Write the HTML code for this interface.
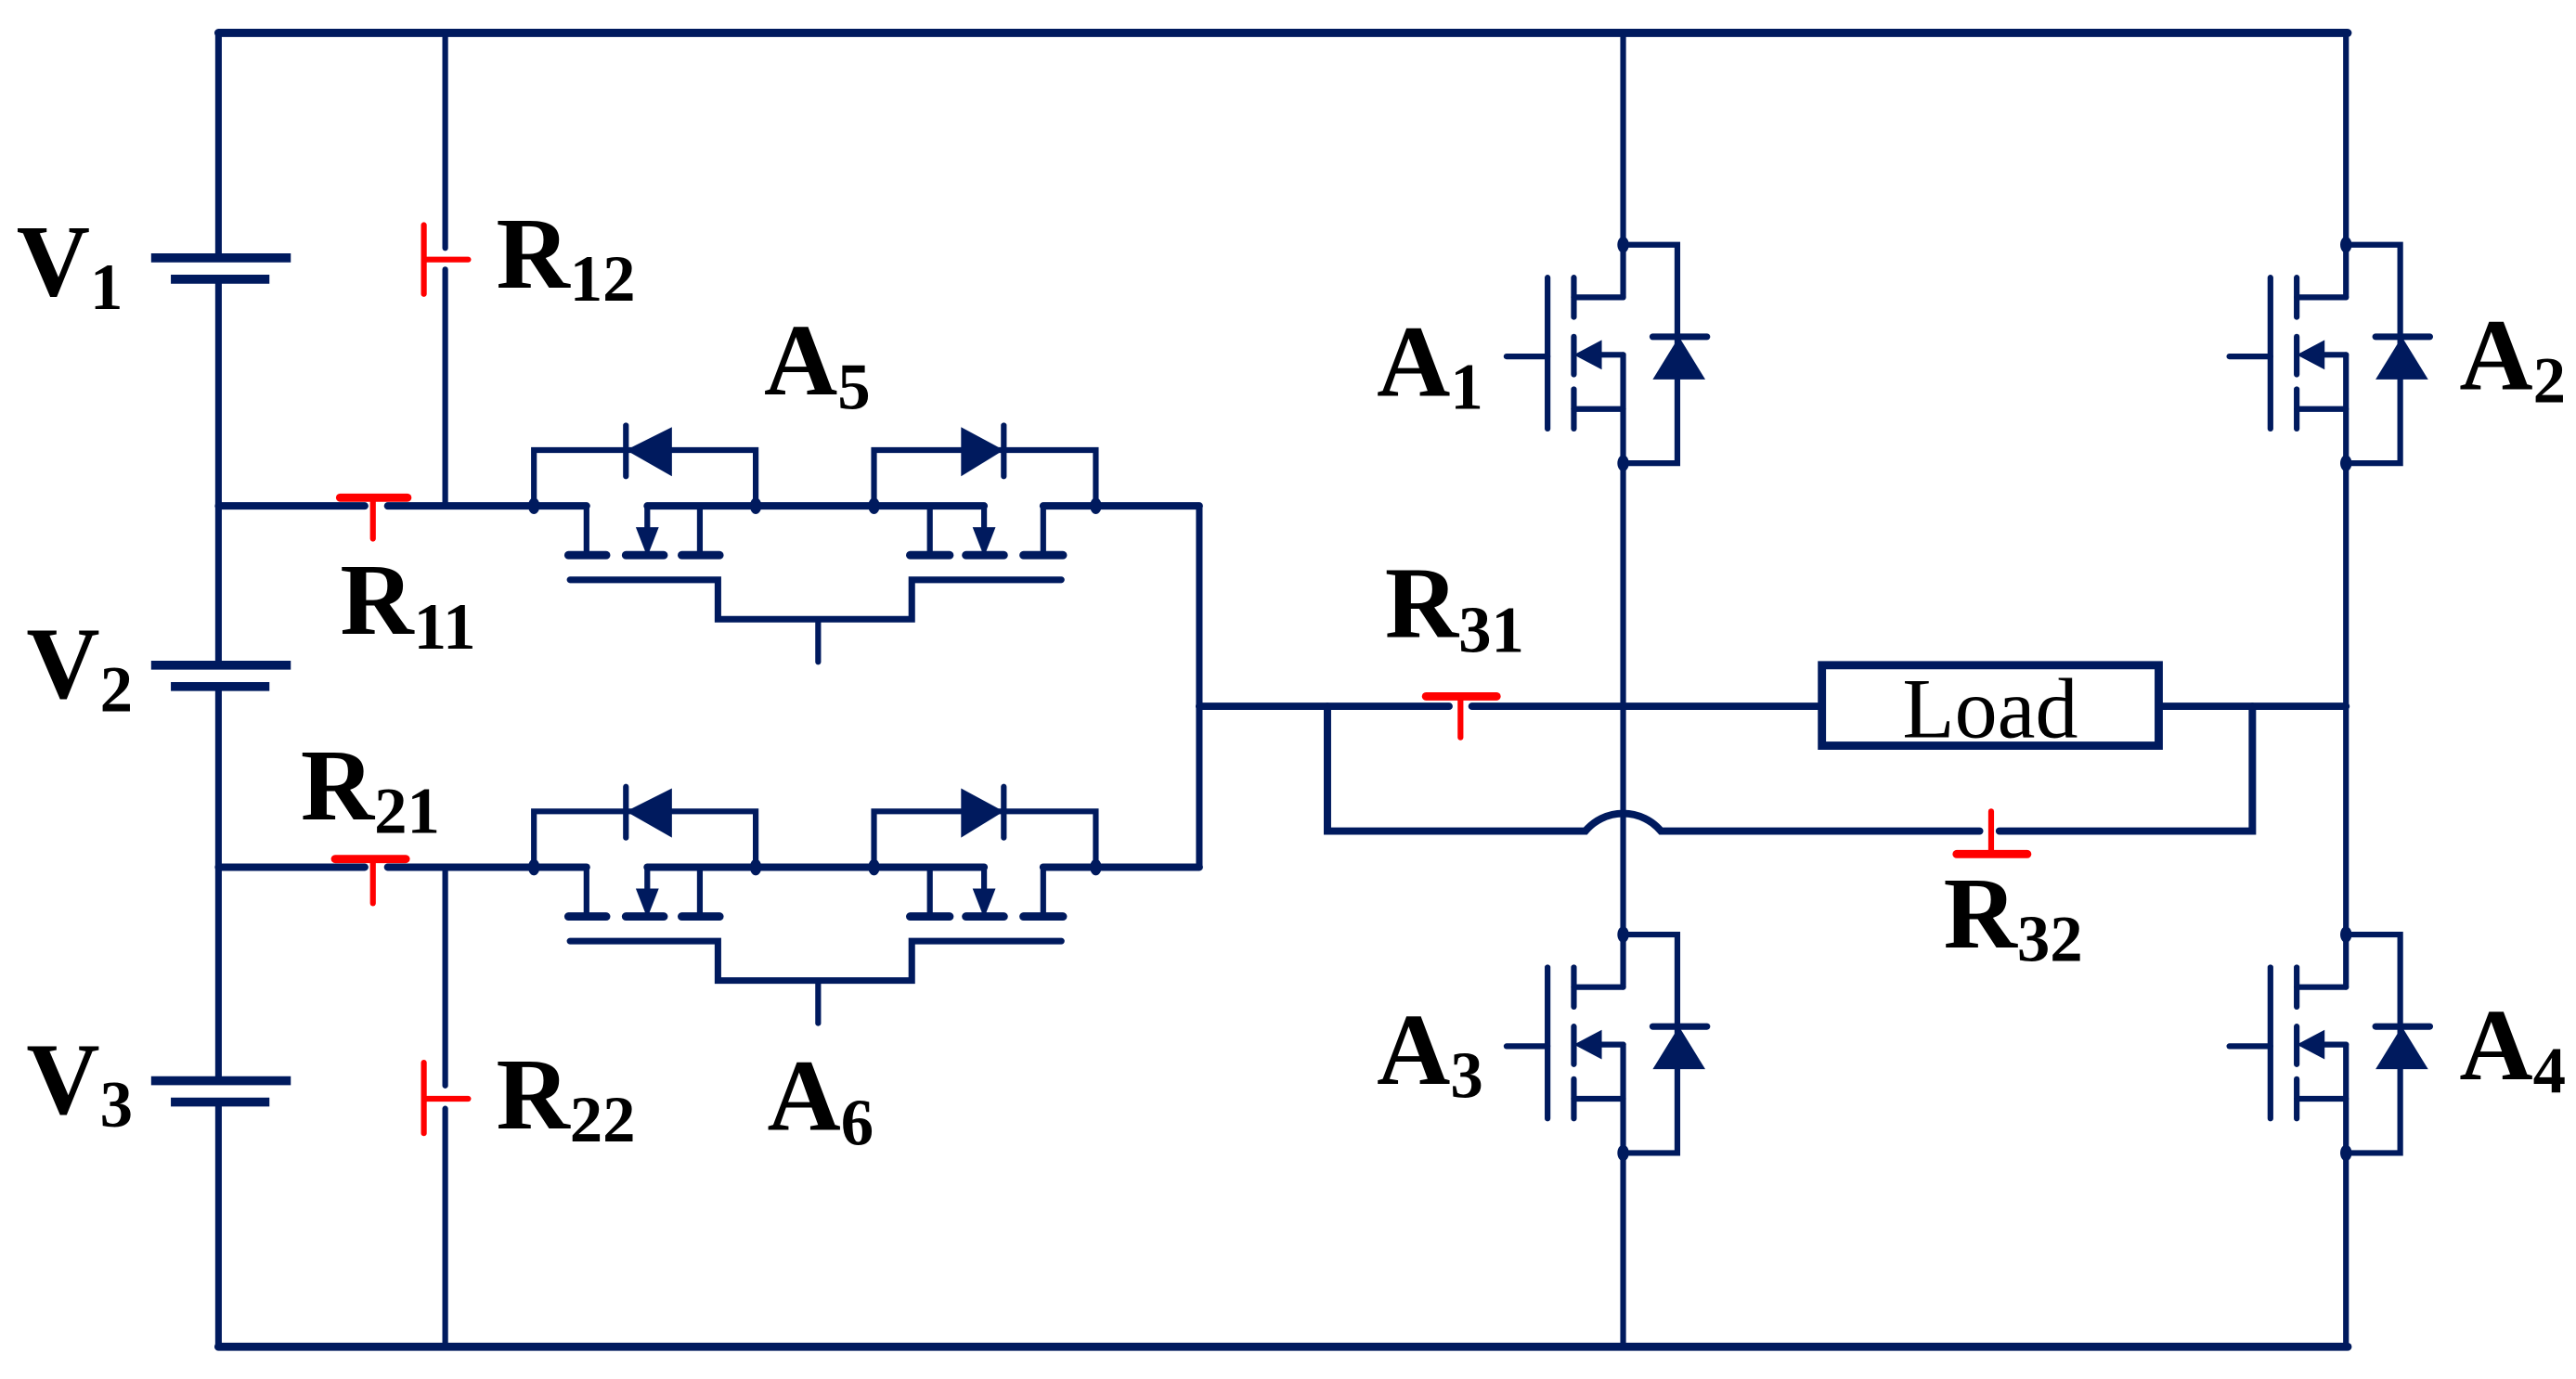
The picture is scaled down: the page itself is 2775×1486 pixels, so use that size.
<!DOCTYPE html>
<html><head><meta charset="utf-8"><style>
html,body{margin:0;padding:0;background:#fff;}
svg{display:block;}
text{font-family:"Liberation Serif",serif;fill:#000;}
</style></head><body>
<svg width="2775" height="1486" viewBox="0 0 1568 839.6" xmlns="http://www.w3.org/2000/svg">
<defs>
<g id="mos">
  <g stroke="#001a5e" stroke-width="3.5" fill="none" stroke-linecap="round">
    <polyline points="988,149 1021,149 1021,282 988,282"/>
    <line x1="958" y1="181" x2="988" y2="181"/>
    <line x1="958" y1="249" x2="988" y2="249"/>
    <line x1="970" y1="216" x2="988" y2="216"/>
    <line x1="958" y1="169" x2="958" y2="193"/>
    <line x1="958" y1="205" x2="958" y2="228"/>
    <line x1="958" y1="237" x2="958" y2="261"/>
    <line x1="942" y1="169" x2="942" y2="261"/>
    <line x1="917" y1="217" x2="942" y2="217"/>
    <line x1="1006" y1="205" x2="1039" y2="205" stroke-width="4"/>
  </g>
  <polygon points="958,216 975,207 975,225" fill="#001a5e"/>
  <polygon points="1006,231 1038,231 1022,205" fill="#001a5e"/>
  <ellipse cx="988" cy="149" rx="3.5" ry="5" fill="#001a5e"/>
  <ellipse cx="988" cy="282" rx="3.5" ry="5" fill="#001a5e"/>
</g>
<g id="bid">
  <g stroke="#001a5e" stroke-width="3.5" fill="none" stroke-linecap="round">
    <polyline points="325,308 325,274 460,274 460,308"/>
    <polyline points="532,308 532,274 667,274 667,308"/>
    <line x1="381" y1="259" x2="381" y2="290"/>
    <line x1="611" y1="259" x2="611" y2="290"/>
    <line x1="236" y1="308" x2="357" y2="308" stroke-width="4.5"/>
    <line x1="394" y1="308" x2="599" y2="308" stroke-width="4.5"/>
    <line x1="635" y1="308" x2="730" y2="308" stroke-width="4.5"/>
    <line x1="357" y1="308" x2="357" y2="338"/>
    <line x1="394" y1="308" x2="394" y2="324"/>
    <line x1="426" y1="308" x2="426" y2="338"/>
    <line x1="566" y1="308" x2="566" y2="338"/>
    <line x1="599" y1="308" x2="599" y2="324"/>
    <line x1="635" y1="308" x2="635" y2="338"/>
    <g stroke-width="5">
      <line x1="346" y1="338" x2="369" y2="338"/>
      <line x1="381" y1="338" x2="404" y2="338"/>
      <line x1="415" y1="338" x2="438" y2="338"/>
      <line x1="554" y1="338" x2="578" y2="338"/>
      <line x1="588" y1="338" x2="611" y2="338"/>
      <line x1="623" y1="338" x2="647" y2="338"/>
    </g>
    <polyline points="347,353 437,353 437,377 555,377 555,353 646,353" stroke-width="4"/>
    <line x1="498" y1="377" x2="498" y2="403"/>
  </g>
  <polygon points="381,274 409,260 409,290" fill="#001a5e"/>
  <polygon points="585,260 585,290 611,274" fill="#001a5e"/>
  <polygon points="387,321 401,321 394,339" fill="#001a5e"/>
  <polygon points="592,321 606,321 599,339" fill="#001a5e"/>
  <ellipse cx="325" cy="308" rx="3.5" ry="5" fill="#001a5e"/>
  <ellipse cx="460" cy="308" rx="3.5" ry="5" fill="#001a5e"/>
  <ellipse cx="532" cy="308" rx="3.5" ry="5" fill="#001a5e"/>
  <ellipse cx="667" cy="308" rx="3.5" ry="5" fill="#001a5e"/>
</g>
</defs>

<g stroke="#001a5e" stroke-width="4" fill="none" stroke-linecap="round">
  <line x1="133" y1="20" x2="1429" y2="20" stroke-width="5"/>
  <line x1="133" y1="820" x2="1429" y2="820" stroke-width="5"/>
  <line x1="133" y1="20" x2="133" y2="157"/>
  <line x1="133" y1="170" x2="133" y2="405"/>
  <line x1="133" y1="418" x2="133" y2="658"/>
  <line x1="133" y1="671" x2="133" y2="820"/>
  <line x1="92" y1="157" x2="177" y2="157" stroke-width="5.5" stroke-linecap="butt"/>
  <line x1="104" y1="170" x2="164" y2="170" stroke-width="5.5" stroke-linecap="butt"/>
  <line x1="92" y1="405" x2="177" y2="405" stroke-width="5.5" stroke-linecap="butt"/>
  <line x1="104" y1="418" x2="164" y2="418" stroke-width="5.5" stroke-linecap="butt"/>
  <line x1="92" y1="658" x2="177" y2="658" stroke-width="5.5" stroke-linecap="butt"/>
  <line x1="104" y1="671" x2="164" y2="671" stroke-width="5.5" stroke-linecap="butt"/>
  <line x1="271" y1="20" x2="271" y2="151" stroke-width="3.5"/>
  <line x1="271" y1="164" x2="271" y2="308" stroke-width="3.5"/>
  <line x1="271" y1="528" x2="271" y2="661" stroke-width="3.5"/>
  <line x1="271" y1="675" x2="271" y2="820" stroke-width="3.5"/>
  <line x1="133" y1="308" x2="222" y2="308" stroke-width="4.5"/>
  <line x1="133" y1="528" x2="222" y2="528" stroke-width="4.5"/>
  <line x1="730" y1="308" x2="730" y2="528"/>
  <line x1="988" y1="20" x2="988" y2="181" stroke-width="3.5"/>
  <line x1="988" y1="216" x2="988" y2="601" stroke-width="3.5"/>
  <line x1="988" y1="636" x2="988" y2="820" stroke-width="3.5"/>
  <line x1="1428" y1="20" x2="1428" y2="181" stroke-width="3.5"/>
  <line x1="1428" y1="216" x2="1428" y2="601" stroke-width="3.5"/>
  <line x1="1428" y1="636" x2="1428" y2="820" stroke-width="3.5"/>
  <line x1="730" y1="430" x2="882" y2="430" stroke-width="4.5"/>
  <line x1="896" y1="430" x2="1109" y2="430" stroke-width="4.5"/>
  <line x1="1314" y1="430" x2="1428" y2="430" stroke-width="4.5"/>
  <rect x="1109" y="405" width="205" height="49" stroke-width="5"/>
  <path d="M808,430 V506 H965 A30,30 0 0 1 1011,506 H1205 M1217,506 H1371 V430" stroke-width="4.5"/>
</g>

<use href="#mos"/>
<use href="#mos" transform="translate(440,0)"/>
<use href="#mos" transform="translate(0,420)"/>
<use href="#mos" transform="translate(440,420)"/>
<use href="#bid"/>
<use href="#bid" transform="translate(0,220)"/>

<g stroke="#ff0000" stroke-width="3.5" fill="none" stroke-linecap="round">
  <line x1="258" y1="137" x2="258" y2="179"/>
  <line x1="258" y1="158" x2="285" y2="158"/>
  <line x1="258" y1="647" x2="258" y2="690"/>
  <line x1="258" y1="669" x2="285" y2="669"/>
  <line x1="207" y1="303" x2="248" y2="303" stroke-width="5"/>
  <line x1="227" y1="303" x2="227" y2="328"/>
  <line x1="204" y1="523" x2="247" y2="523" stroke-width="5"/>
  <line x1="227" y1="523" x2="227" y2="550"/>
  <line x1="868" y1="424" x2="911" y2="424" stroke-width="5"/>
  <line x1="889" y1="424" x2="889" y2="449"/>
  <line x1="1212" y1="494" x2="1212" y2="520"/>
  <line x1="1191" y1="520" x2="1234" y2="520" stroke-width="5"/>
</g>

<g font-weight="bold" font-size="62">
  <text x="10" y="180">V<tspan font-size="40" dy="8">1</tspan></text>
  <text x="16" y="425">V<tspan font-size="40" dy="8">2</tspan></text>
  <text x="16" y="678">V<tspan font-size="40" dy="8">3</tspan></text>
  <text x="302" y="175">R<tspan font-size="40" dy="8">12</tspan></text>
  <text x="207" y="386">R<tspan font-size="40" dy="9">11</tspan></text>
  <text x="183" y="499">R<tspan font-size="40" dy="8">21</tspan></text>
  <text x="302" y="687">R<tspan font-size="40" dy="8">22</tspan></text>
  <text x="465" y="240">A<tspan font-size="40" dy="9">5</tspan></text>
  <text x="467" y="688">A<tspan font-size="40" dy="9">6</tspan></text>
  <text x="838" y="241">A<tspan font-size="40" dy="8">1</tspan></text>
  <text x="1497" y="237">A<tspan font-size="40" dy="8">2</tspan></text>
  <text x="838" y="660">A<tspan font-size="40" dy="8">3</tspan></text>
  <text x="1497" y="657">A<tspan font-size="40" dy="8">4</tspan></text>
  <text x="843" y="388">R<tspan font-size="40" dy="9">31</tspan></text>
  <text x="1183" y="577">R<tspan font-size="40" dy="8">32</tspan></text>
</g>
<text x="1158" y="449" font-size="52">Load</text>
</svg>
</body></html>
